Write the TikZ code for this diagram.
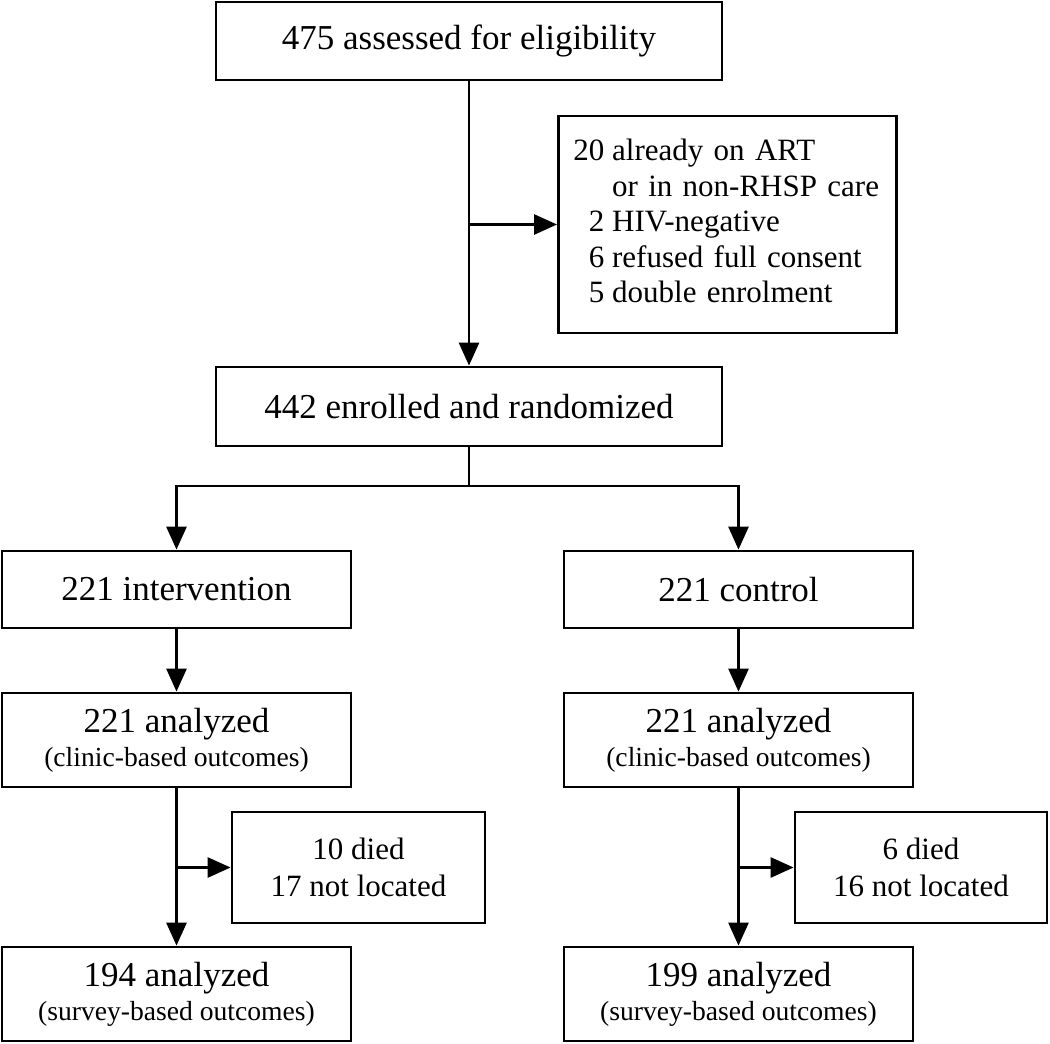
\documentclass[tikz,border=0pt]{standalone}
\usepackage{fontspec}
\setmainfont{Liberation Serif}
\usetikzlibrary{arrows.meta}

\begin{document}
\begin{tikzpicture}[x=0.5pt,y=-0.5pt]
    \tikzset{
        box/.style={draw,line width=1.4pt,inner sep=0pt,align=center,font=\fontsize{17.5}{20}\selectfont},
        sidebox/.style={box,font=\fontsize{15.5}{18.5}\selectfont},
        flow/.style={line width=1.4pt,-{Triangle[length=11.5pt,width=10pt]}},}
    \def\subline#1{\\[-3pt]{\fontsize{13.8}{15.5}\selectfont #1}}
    \useasboundingbox (0,0) rectangle (1050,1044);
    % screening
    \node[box,minimum width=253pt,minimum height=39pt] (assess) at (469,41) {475 assessed for eligibility};
    \node[sidebox,anchor=west,text width=154pt,inner xsep=7.5pt,minimum height=108.5pt,align=left] (excl) at (557,224.5)
        {\fontsize{15.5}{17.8}\selectfont
        \begin{tabular}{@{}r@{\hspace{0.25em}}l@{}}
            20 & already on ART\\
               & or in non-RHSP care\\
             2 & HIV-negative\\
             6 & refused full consent\\
             5 & double enrolment
        \end{tabular}};
    \node[box,minimum width=253pt,minimum height=39.5pt] (enrol) at (469,406.5) {442 enrolled and randomized};
    \coordinate (split) at (469,486);
    % arms
    \node[box,minimum width=174.5pt,minimum height=38.5pt] (interv) at (176.5,589.5) {221 intervention};
    \node[box,minimum width=174.5pt,minimum height=38.5pt] (contr) at (738.5,589.5) {221 control};
    \node[box,minimum width=174.5pt,minimum height=47pt] (clinA) at (176.5,740) {221 analyzed\subline{(clinic-based outcomes)}};
    \node[box,minimum width=174.5pt,minimum height=47pt] (clinB) at (738.5,740) {221 analyzed\subline{(clinic-based outcomes)}};
    \node[sidebox,minimum width=126.5pt,minimum height=55.5pt] (lostA) at (358.5,867.5) {10 died\\17 not located};
    \node[sidebox,minimum width=126pt,minimum height=55.5pt] (lostB) at (921,867.5) {6 died\\16 not located};
    \node[box,minimum width=174.5pt,minimum height=47pt] (survA) at (176.5,994) {194 analyzed\subline{(survey-based outcomes)}};
    \node[box,minimum width=174.5pt,minimum height=47pt] (survB) at (738.5,994) {199 analyzed\subline{(survey-based outcomes)}};
    % connectors
    \draw[flow] (assess) -- (enrol);
    \draw[flow] (assess.south |- excl.west) -- (excl.west);
    \draw[line width=1.4pt] (enrol) -- (split);
    \draw[flow] (split) -| (interv);
    \draw[flow] (split) -| (contr);
    \draw[flow] (interv) -- (clinA);
    \draw[flow] (contr) -- (clinB);
    \draw[flow] (clinA) -- (survA);
    \draw[flow] (clinB) -- (survB);
    \draw[flow] (clinA.south |- lostA.west) -- (lostA.west);
    \draw[flow] (clinB.south |- lostB.west) -- (lostB.west);
\end{tikzpicture}
\end{document}
